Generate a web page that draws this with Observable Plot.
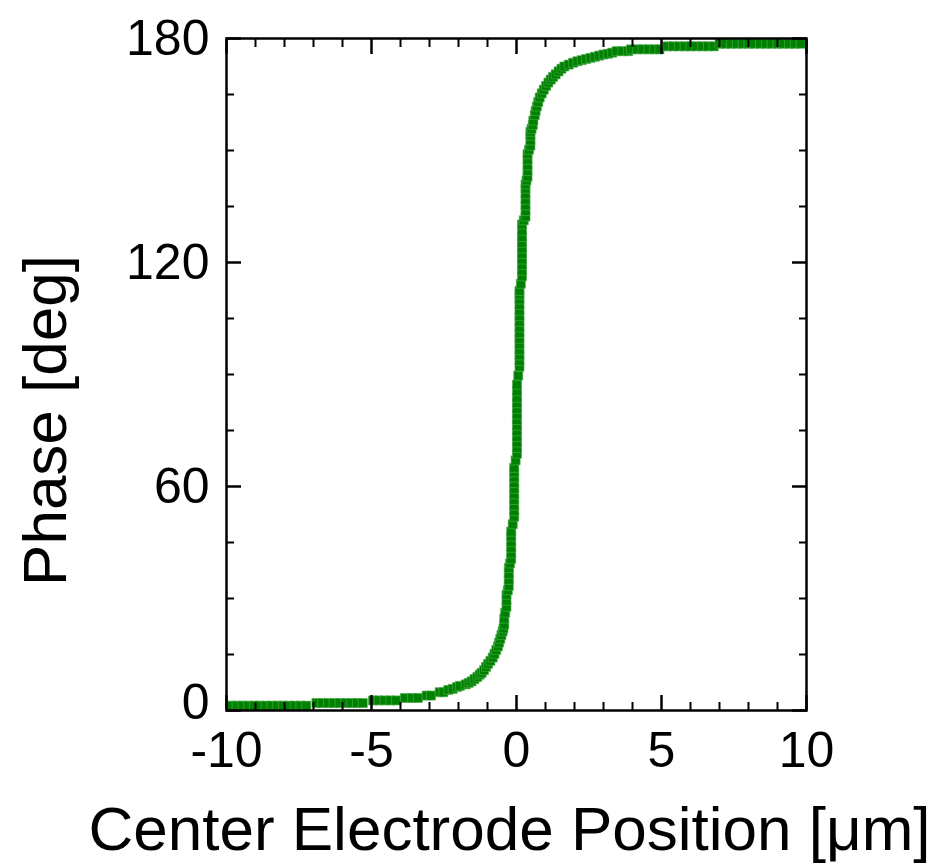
<!DOCTYPE html>
<html>
<head>
<meta charset="utf-8">
<script src="https://cdn.jsdelivr.net/npm/d3@7"></script>
<script src="https://cdn.jsdelivr.net/npm/@observablehq/plot@0.6"></script>
<style>
  html, body { margin: 0; padding: 0; background: #fff; }
  #chart svg { display: block; }
</style>
</head>
<body>
<div id="chart"></div>
<script>
// Data
const positionUm = [
  -9.85,-9.65,-9.45,-9.25,-9.05,-8.85,-8.65,-8.45,-8.25,-8.05,-7.85,-7.65,-7.45,-7.25,
  -6.9,-6.7,-6.5,-6.3,-6.1,-5.9,-5.7,-5.5,-5.3,
  -4.95,-4.75,-4.55,-4.35,-4.15,
  -3.85,-3.6,-3.4,
  -3.1,-2.95,
  -2.65,-2.52,
  -2.35,-2.2,-2.05,-1.95,-1.75,-1.65,-1.55,-1.45,-1.35,-1.27,-1.2,-1.12,-1.05,-0.98,-0.9,-0.82,-0.76,-0.7,-0.64,-0.6,-0.56,-0.52,-0.48,-0.45,
  -0.424,-0.424,
  -0.39,
  -0.345,-0.345,-0.345,
  -0.3,
  -0.266,-0.266,-0.266,-0.266,
  -0.225,
  -0.183,-0.183,-0.183,-0.183,-0.183,-0.183,
  -0.13,
  -0.079,-0.079,-0.079,-0.079,-0.079,-0.079,-0.079,-0.079,-0.079,-0.079,
  -0.03,
  0.017,0.017,0.017,0.017,0.017,0.017,0.017,0.017,0.017,0.017,0.017,0.017,0.017,
  0.06,
  0.103,0.103,0.103,0.103,0.103,0.103,0.103,0.103,0.103,0.103,0.103,0.103,0.103,0.103,0.103,
  0.15,
  0.19,0.19,0.19,0.19,0.19,0.19,0.19,0.19,0.19,0.19,
  0.25,
  0.31,0.31,0.31,0.31,0.31,0.31,0.31,
  0.345,
  0.38,0.38,0.38,0.38,0.38,
  0.43,
  0.48,0.48,0.48,0.48,
  0.52,0.56,0.58,0.63,0.66,0.7,0.75,0.8,0.87,0.94,1.02,1.1,1.18,1.26,1.35,1.45,1.55,1.65,1.8,1.95,2.1,2.25,2.4,2.55,2.7,2.85,3.0,3.15,3.3,
  3.45,3.65,3.85,
  3.95,4.15,4.35,4.55,4.75,4.93,
  5.2,5.4,5.6,5.8,6.0,6.2,6.4,6.6,6.8,
  7.0,7.2,7.4,7.6,7.8,8.0,8.2,8.4,8.6,8.8,9.0,9.2,9.4,9.6,9.8
];
const phaseDeg = [
  1.3,1.3,1.3,1.3,1.3,1.3,1.3,1.3,1.3,1.3,1.3,1.3,1.3,1.3,
  2.0,2.0,2.0,2.0,2.0,2.0,2.0,2.0,2.0,
  2.7,2.7,2.7,2.7,2.7,
  3.35,3.35,3.35,
  4.0,4.0,
  4.9,4.9,
  5.5,5.8,6.3,6.6,7.0,7.4,7.8,8.4,9.0,9.6,10.1,10.8,11.7,12.5,13.3,14.2,15.2,16.2,17.2,18.2,19.2,20.2,21.2,22.0,
  23.0,24.6,
  26.2,
  27.8,29.4,31.0,
  32.2,
  33.4,35.0,36.6,38.2,
  39.4,
  40.6,42.1,43.6,45.1,46.6,47.9,
  49.9,
  51.9,53.4,54.9,56.4,57.9,59.4,60.9,62.4,63.8,65.0,
  67.0,
  68.8,70.3,71.8,73.3,74.8,76.3,77.8,79.3,80.8,82.3,83.8,85.5,87.3,
  89.7,
  92.1,93.6,95.1,96.6,98.1,99.6,101.1,102.6,104.1,105.6,107.1,108.6,110.1,111.4,112.4,
  114.3,
  116.3,117.8,119.3,120.8,122.3,123.8,125.3,126.8,128.5,130.2,
  131.3,
  132.3,133.8,135.3,136.8,138.3,139.8,140.9,
  142.0,
  143.0,144.5,146.0,147.5,149.0,
  150.2,
  151.3,152.7,154.0,155.0,
  155.8,156.8,158.0,159.5,160.6,161.8,163.0,164.2,165.3,166.3,167.3,168.2,169.0,169.7,170.4,171.2,171.9,172.5,173.0,173.5,173.9,174.2,174.5,174.8,175.1,175.4,175.7,175.9,176.2,
  176.6,176.6,176.6,
  177.1,177.1,177.1,177.1,177.1,177.1,
  177.9,177.9,177.9,177.9,177.9,177.9,177.9,177.9,177.9,
  178.6,178.6,178.6,178.6,178.6,178.6,178.6,178.6,178.6,178.6,178.6,178.6,178.6,178.6,178.6
];

const xMajorTicks = [-10, -5, 0, 5, 10];
const xMinorTicks = [-9,-8,-7,-6,-4,-3,-2,-1,1,2,3,4,6,7,8,9];
const yMajorTicks = [0, 60, 120, 180];
const yMinorTicks = [15,30,45,75,90,105,135,150,165];
const xLabel = "Center Electrode Position [μm]";
const yLabel = "Phase [deg]";

const points = positionUm.map((x, i) => ({x, y: phaseDeg[i]}));

const tickStyle = {fill: "none", stroke: "black", label: null};

const chart = Plot.plot({
  width: 937,
  height: 866,
  marginLeft: 226,
  marginRight: 131,
  marginTop: 38,
  marginBottom: 156,
  style: {fontFamily: "'Liberation Sans', Arial, sans-serif", background: "#fff", color: "black"},
  x: {domain: [-10, 10], label: null},
  y: {domain: [0, 180], label: null},
  marks: [
    Plot.dot(points, {x: "x", y: "y", symbol: "square", r: 5.1, fill: "#008000", stroke: "#4fae4f", strokeWidth: 0.6}),
    Plot.frame({stroke: "black", strokeWidth: 2.5}),
    // inward major & minor ticks on all four sides
    Plot.axisX({...tickStyle, anchor: "bottom", ticks: xMajorTicks, tickSize: -15, strokeWidth: 2.5}),
    Plot.axisX({...tickStyle, anchor: "bottom", ticks: xMinorTicks, tickSize: -8, strokeWidth: 2}),
    Plot.axisX({...tickStyle, anchor: "top", ticks: xMajorTicks, tickSize: -15, strokeWidth: 2.5}),
    Plot.axisX({...tickStyle, anchor: "top", ticks: xMinorTicks, tickSize: -8, strokeWidth: 2}),
    Plot.axisY({...tickStyle, anchor: "left", ticks: yMajorTicks, tickSize: -15, strokeWidth: 2.5}),
    Plot.axisY({...tickStyle, anchor: "left", ticks: yMinorTicks, tickSize: -8, strokeWidth: 2}),
    Plot.axisY({...tickStyle, anchor: "right", ticks: yMajorTicks, tickSize: -15, strokeWidth: 2.5}),
    Plot.axisY({...tickStyle, anchor: "right", ticks: yMinorTicks, tickSize: -8, strokeWidth: 2}),
    // tick labels
    Plot.axisX({anchor: "bottom", ticks: xMajorTicks, tickSize: 0, tickPadding: 21, fontSize: 50, label: null, tickFormat: d => d < 0 ? "-" + Math.abs(d) : String(d), fill: "black"}),
    Plot.axisY({anchor: "left", ticks: yMajorTicks.filter(d => d !== 0), tickSize: 0, tickPadding: 17, fontSize: 50, label: null, fill: "black"}),
    Plot.axisY({anchor: "left", ticks: [0], tickSize: 0, tickPadding: 17, fontSize: 50, label: null, fill: "black", dy: -8}),
    // axis titles
    Plot.text([xLabel], {frameAnchor: "bottom", text: d => d, fontSize: 62, fill: "black", textAnchor: "middle", lineAnchor: "middle", dx: -7, dy: 120}),
    Plot.text([yLabel], {frameAnchor: "left", text: d => d, fontSize: 62, fill: "black", textAnchor: "middle", lineAnchor: "middle", rotate: -90, dx: -180, dy: 46})
  ]
});
document.getElementById("chart").appendChild(chart);
</script>
</body>
</html>
